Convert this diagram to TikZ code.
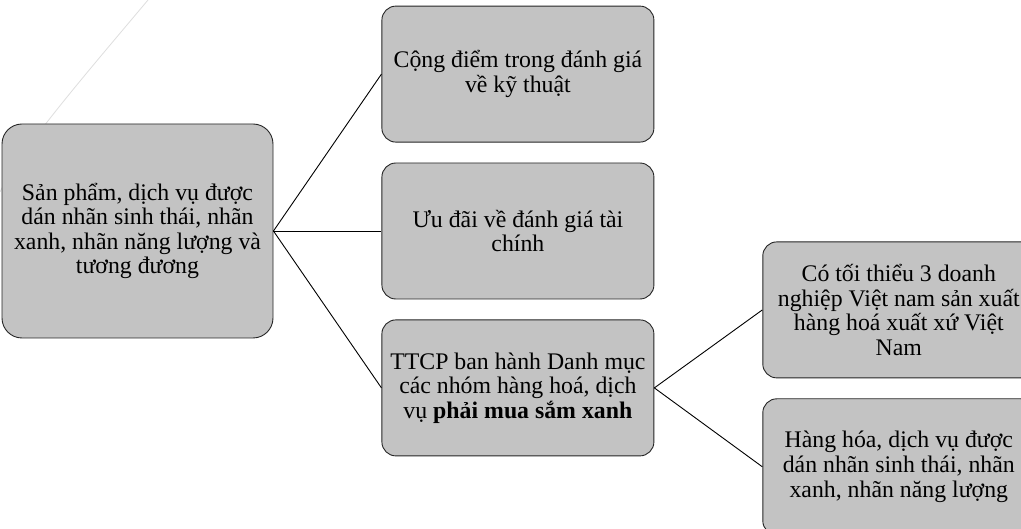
\documentclass[tikz,border=0pt]{standalone}
\usepackage{fontspec}
\setmainfont{Liberation Serif}
\usetikzlibrary{positioning}

\definecolor{boxgray}{RGB}{195,195,195}
\definecolor{arcgray}{RGB}{222,222,222}

\begin{document}
\begin{tikzpicture}[
        x = 1pt, y = -1pt,
        box/.style = {
                draw = black!85,
                fill = boxgray,
                line width = 0.9pt,
                rounded corners = #1,
                minimum width = 272pt,
                minimum height = 136pt,
                align = center,
                inner sep = 0pt,
                font = \fontsize{23.8}{24.6}\selectfont
            },
            box/.default = 14pt,
        link/.style = {line width = 0.9pt, black},
            node distance = {20pt}
        ]
        \useasboundingbox (0,0) rectangle (1021,529);
        \clip (0,0) rectangle (1021,529);
        \draw[arcgray, line width = 0.8pt] (148,0) .. controls (85,75) and (20,150) .. (0,192);

        \node[box=20pt, minimum width = 271pt, minimum height = 214pt] (1) at (137.5,231)
            {Sản phẩm, dịch vụ được\\dán nhãn sinh thái, nhãn\\xanh, nhãn năng lượng và\\tương đương};
        \node[box, right=108pt of 1] (3) {Ưu đãi về đánh giá tài\\chính};
        \node[box, above=of 3] (2) {Cộng điểm trong đánh giá\\về kỹ thuật};
        \node[box, below=of 3] (4) {TTCP ban hành Danh mục\\các nhóm hàng hoá, dịch\\vụ \textbf{phải mua sắm xanh}};
        \node[box, right=108pt of 4, yshift=78pt] (5) {Có tối thiểu 3 doanh\\nghiệp Việt nam sản xuất\\hàng hoá xuất xứ Việt\\Nam};
        \node[box, below=of 5] (6) {Hàng hóa, dịch vụ được\\dán nhãn sinh thái, nhãn\\xanh, nhãn năng lượng};

        \draw[link] (1.east) -- (2.west);
        \draw[link] (1.east) -- (3.west);
        \draw[link] (1.east) -- (4.west);
        \draw[link] (4.east) -- (5.west);
        \draw[link] (4.east) -- (6.west);

    \end{tikzpicture}
\end{document}
